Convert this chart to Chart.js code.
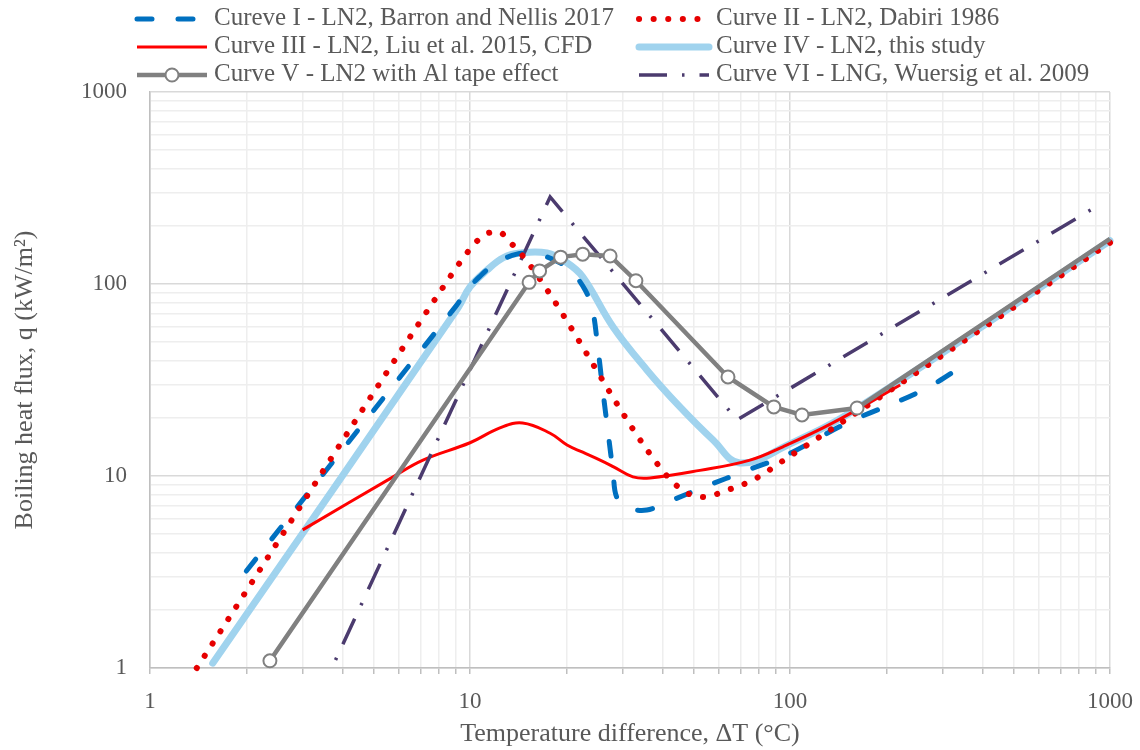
<!DOCTYPE html>
<html>
<head>
<meta charset="utf-8">
<script src="https://cdn.jsdelivr.net/npm/chart.js@4.4.1/dist/chart.umd.min.js"></script>
<style>
  html, body { margin: 0; padding: 0; background: #fff; }
  #wrap { width: 1140px; height: 750px; }
</style>
</head>
<body>
<div id="wrap"><canvas id="boilingChart" width="1140" height="750"></canvas></div>
<script>
// === Valeurs (ΔT en °C, q en kW/m²) ===
const curve1X = [2.0, 9.0, 9.8, 10.7, 12.1, 14.0, 16.2, 19.1, 21.0, 22.9, 24.1, 25.1, 26.0, 27.0, 28.0, 28.8, 31.6, 35.7, 41.3, 54.2, 73.4, 97.9, 151, 260, 360];
const curve1Y = [3.2, 76, 93, 109, 129, 143, 143, 129, 114, 93, 75, 46.4, 28.0, 16.9, 10.5, 7.7, 6.8, 6.65, 7.3, 8.8, 10.7, 12.9, 18.9, 28.0, 39];

const curve2X = [1.40, 8.6, 9.72, 10.4, 11.2, 12.3, 13.3, 15.2, 40.1, 47.0, 54.2, 62.6, 76.6, 99.3, 129, 1000];
const curve2Y = [1.0, 107, 143, 164, 182, 187, 166, 129, 10.6, 8.26, 7.77, 8.36, 9.53, 12.6, 16.7, 164];

const curve3X = [3.0, 5.75, 7.13, 10, 12.4, 14.6, 17.8, 20.1, 22.5, 25.5, 28, 32.3, 36.5, 52.3, 75, 95, 136, 221];
const curve3Y = [5.24, 9.9, 12.1, 14.9, 17.8, 18.9, 16.7, 14.5, 13.3, 12.1, 11.2, 9.9, 9.77, 10.7, 12.1, 14.2, 18.9, 29.8];

const curve4X = [1.57, 9.17, 10, 11.3, 12.7, 14.3, 17.4, 20.1, 22.5, 28.0, 35.7, 45.3, 57.5, 69.8, 100, 160, 1000];
const curve4Y = [1.06, 75, 96.5, 118, 137, 145, 145, 129, 109, 59.7, 35.7, 22.9, 15.4, 11.7, 14.7, 22.2, 168];

const curve5X = [2.37, 15.3, 16.5, 19.2, 22.5, 27.4, 33.0, 64, 89, 109, 162, 1000];
const curve5Y = [1.09, 102, 117, 138, 143, 140, 104, 32.8, 22.9, 20.8, 22.6, 172];

const curve6X = [3.8, 17.8, 68.3, 950];
const curve6Y = [1.1, 284, 19.6, 265];

const xTickLabels = [1, 10, 100, 1000];
const yTickLabels = [1, 10, 100, 1000];

const seriesLabels = [
  "Cureve I - LN2, Barron and Nellis 2017",
  "Curve II - LN2, Dabiri 1986",
  "Curve III - LN2, Liu et al. 2015, CFD",
  "Curve IV - LN2, this study",
  "Curve V - LN2 with Al tape effect",
  "Curve VI - LNG, Wuersig et al. 2009"
];

const TEXT = "#595959";
const FONT = "'Liberation Serif', 'Times New Roman', serif";

function toPoints(xs, ys) {
  return xs.map((x, i) => ({ x: x, y: ys[i] }));
}

// graduations 1..9 par décade pour la grille log
function logGrid(min, max) {
  const out = [];
  for (let d = min; d < max; d *= 10) {
    for (let k = 1; k < 10; k++) out.push(d * k);
  }
  out.push(max);
  return out.map(v => ({ value: v }));
}

function isDecade(v) {
  return Math.abs(Math.log10(v) - Math.round(Math.log10(v))) < 1e-9;
}

// === Légende sur deux colonnes ===
const twoColumnLegend = {
  id: "twoColumnLegend",
  afterDraw(chart) {
    const ctx = chart.ctx;
    const lineX = [137, 639];
    const textX = [214, 716];
    const rows = [19, 47, 75];
    chart.data.datasets.forEach((ds, i) => {
      const col = i % 2;
      const y = rows[Math.floor(i / 2)];
      const x0 = lineX[col];
      const x1 = x0 + 70;
      ctx.save();
      ctx.strokeStyle = ds.borderColor;
      ctx.lineWidth = ds.borderWidth;
      ctx.lineCap = ds.borderCapStyle || "butt";
      ctx.setLineDash(ds.borderDash || []);
      ctx.beginPath();
      ctx.moveTo(x0, y);
      ctx.lineTo(x1, y);
      ctx.stroke();
      if (ds.legendMarker) {
        ctx.setLineDash([]);
        ctx.fillStyle = "#ffffff";
        ctx.lineWidth = 2;
        ctx.beginPath();
        ctx.arc((x0 + x1) / 2, y, 6.5, 0, Math.PI * 2);
        ctx.fill();
        ctx.stroke();
      }
      ctx.fillStyle = TEXT;
      ctx.font = "25px " + FONT;
      ctx.textBaseline = "middle";
      ctx.fillText(ds.label, textX[col], y - 1);
      ctx.restore();
    });
  }
};

const ctx = document.getElementById("boilingChart").getContext("2d");

new Chart(ctx, {
  type: "line",
  data: {
    datasets: [
      {
        label: seriesLabels[0],
        data: toPoints(curve1X, curve1Y),
        borderColor: "#0070c0",
        borderWidth: 5,
        borderDash: [15, 26],
        borderCapStyle: "round",
        tension: 0.35,
        pointRadius: 0,
        order: 2
      },
      {
        label: seriesLabels[1],
        data: toPoints(curve2X, curve2Y),
        borderColor: "#e60000",
        borderWidth: 6,
        borderDash: [0.1, 14.5],
        borderCapStyle: "round",
        cubicInterpolationMode: "monotone",
        pointRadius: 0,
        order: 1
      },
      {
        label: seriesLabels[2],
        data: toPoints(curve3X, curve3Y),
        borderColor: "#ff0000",
        borderWidth: 3,
        tension: 0.4,
        pointRadius: 0,
        order: 4
      },
      {
        label: seriesLabels[3],
        data: toPoints(curve4X, curve4Y),
        borderColor: "#a0d3ee",
        borderWidth: 7,
        borderCapStyle: "round",
        tension: 0.4,
        pointRadius: 0,
        order: 5
      },
      {
        label: seriesLabels[4],
        data: toPoints(curve5X, curve5Y),
        borderColor: "#808080",
        borderWidth: 4.5,
        tension: 0,
        pointRadius: curve5X.map((x, i) => (i === curve5X.length - 1 ? 0 : 6.5)),
        pointBackgroundColor: "#ffffff",
        pointBorderColor: "#808080",
        pointBorderWidth: 2,
        legendMarker: true,
        order: 0
      },
      {
        label: seriesLabels[5],
        data: toPoints(curve6X, curve6Y),
        borderColor: "#4b3b6e",
        borderWidth: 3.5,
        borderDash: [28, 15, 2.5, 15],
        borderDashOffset: 43,
        tension: 0,
        pointRadius: 0,
        order: 3
      }
    ]
  },
  options: {
    responsive: false,
    animation: false,
    clip: false,
    layout: { padding: { top: 92, right: 30, left: 0, bottom: 0 } },
    plugins: {
      legend: { display: false },
      tooltip: { enabled: false }
    },
    scales: {
      x: {
        type: "logarithmic",
        min: 1,
        max: 1000,
        afterBuildTicks: s => { s.ticks = logGrid(1, 1000); },
        afterFit: s => {
          s.height = 82;
          s.paddingLeft = 0;
          s.paddingRight = 0;
        },
        border: { color: "#bfbfbf", width: 1.5 },
        grid: {
          color: c => (c.tick && isDecade(c.tick.value) ? "#d9d9d9" : "#eeeeee"),
          lineWidth: 1.5,
          tickColor: "#bfbfbf",
          tickLength: 6
        },
        ticks: {
          autoSkip: false,
          maxRotation: 0,
          padding: 14,
          color: TEXT,
          font: { family: FONT, size: 23 },
          callback: v => (xTickLabels.includes(v) ? String(v) : "")
        },
        title: {
          display: true,
          text: "Temperature difference, ΔT (°C)",
          color: TEXT,
          font: { family: FONT, size: 26 },
          padding: { top: 0, bottom: 0 }
        }
      },
      y: {
        type: "logarithmic",
        min: 1,
        max: 1000,
        afterBuildTicks: s => { s.ticks = logGrid(1, 1000); },
        afterFit: s => {
          s.width = 150;
          s.paddingTop = 0;
          s.paddingBottom = 0;
        },
        border: { color: "#bfbfbf", width: 1.5 },
        grid: {
          color: c => (c.tick && isDecade(c.tick.value) ? "#d9d9d9" : "#eeeeee"),
          lineWidth: 1.5,
          drawTicks: false
        },
        ticks: {
          autoSkip: false,
          padding: 23,
          color: TEXT,
          font: { family: FONT, size: 23 },
          callback: v => (yTickLabels.includes(v) ? String(v) : "")
        },
        title: {
          display: true,
          text: "Boiling heat flux, q (kW/m²)",
          color: TEXT,
          font: { family: FONT, size: 26 },
          padding: { top: 10, bottom: 0 }
        }
      }
    }
  },
  plugins: [twoColumnLegend]
});
</script>
</body>
</html>
